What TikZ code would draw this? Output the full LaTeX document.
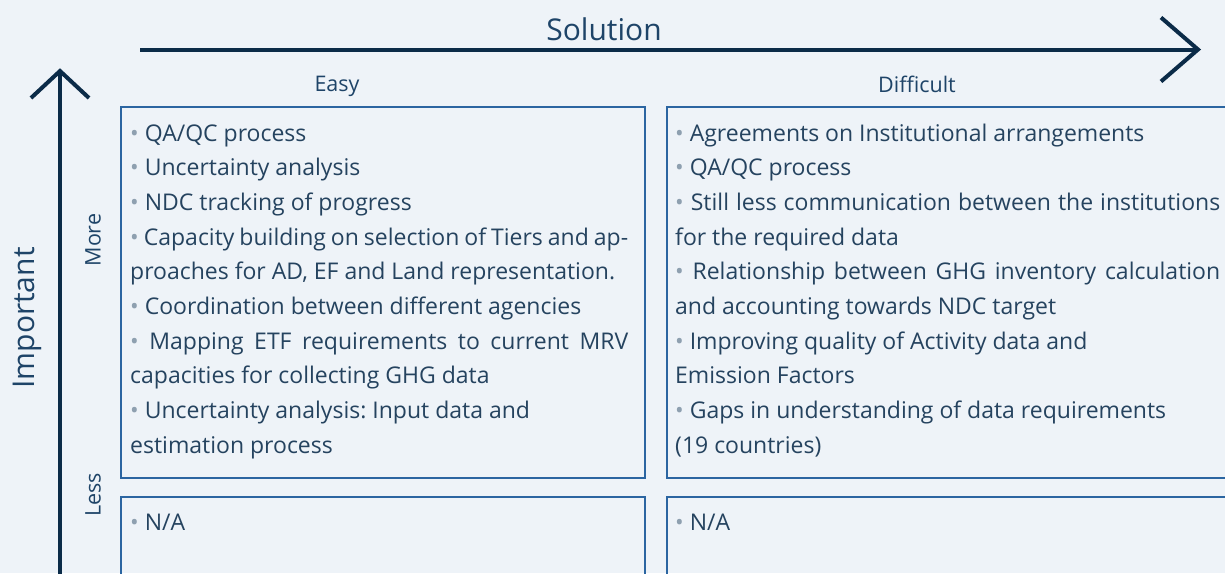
\documentclass[tikz,border=0pt]{standalone}
\usepackage{fontspec}
\setmainfont{Open Sans}
\usetikzlibrary{calc}
\frenchspacing
\definecolor{bg}{HTML}{EEF3F8}
\definecolor{axisc}{HTML}{0B2B48}
\definecolor{boxc}{HTML}{2B65A1}
\definecolor{txt}{HTML}{25435F}
\definecolor{lbl}{HTML}{1E4468}
\definecolor{bul}{HTML}{8EA0B0}
\newcommand\bu{{\color{bul}\textbullet}\ }
\newcommand\jl[1]{\hbox to \hsize{#1}}
\newcommand\rl[1]{\hbox{#1}}
\tikzset{
  axis/.style={draw=axisc, line width=4pt, line join=miter},
  quad/.style={draw=boxc, line width=2pt, rectangle, inner sep=0pt, anchor=north west},
  body/.style={anchor=base west, inner sep=0pt, text=txt, font=\fontsize{23}{34.7}\selectfont\frenchspacing},
  big/.style={text=lbl, font=\fontsize{30}{36}\selectfont, inner sep=0pt},
  small/.style={text=lbl, font=\fontsize{21.5}{26}\selectfont, inner sep=0pt}
}
\begin{document}
\begin{tikzpicture}[x=1pt,y=-1pt]
\fill[bg] (0,0) rectangle (1225,573);
\useasboundingbox (0,0) rectangle (1225,573);
\begin{scope}
\clip (0,0) rectangle (1225,573);
% quadrant boxes
\node[quad, minimum width=524pt, minimum height=371pt] (tlb) at (119.5,105.5) {};
\node[quad, minimum width=580pt, minimum height=371pt] (trb) at (665.5,105.5) {};
\node[quad, minimum width=524pt, minimum height=120pt] (blb) at (119.5,495.5) {};
\node[quad, minimum width=580pt, minimum height=120pt] (brb) at (665.5,495.5) {};
% axes
\coordinate (xs) at (140,49.5);
\coordinate (xe) at (1198,49.5);
\draw[axis] (xs) -- (xe);
\draw[axis] ($(xe)+(-37,-32)$) -- (xe) -- ($(xe)+(-37,32)$);
\coordinate (ys) at (60,600);
\coordinate (ye) at (60,71);
\draw[axis] (ys) -- (ye);
\draw[axis] ($(ye)+(-29,27)$) -- (ye) -- ($(ye)+(29,27)$);
\end{scope}
% labels
\node[big] (sol) at (604,29) {Solution};
\node[big, rotate=90] (imp) at (27,318) {Important};
\node[small] (easy) at (337,86) {Easy};
\node[small] (diff) at (917,84) {Difficult};
\node[small, rotate=90] (more) at (93,240) {More};
\node[small, rotate=90] (less) at (93,495) {Less};
% texts
\node[body] (tlt) at (130,141) {\parbox[t]{498pt}{%
\rl{\bu QA/QC process}
\rl{\bu Uncertainty analysis}
\rl{\bu NDC tracking of progress}
\jl{\bu Capacity building on selection of Tiers and ap-}
\rl{proaches for AD, EF and Land representation.}
\rl{\bu Coordination between different agencies}
\jl{\bu Mapping ETF requirements to current MRV}
\rl{capacities for collecting GHG data}
\rl{\bu Uncertainty analysis: Input data and}
\rl{estimation process}}};
\node[body] (trt) at (675,141) {\parbox[t]{545pt}{%
\rl{\bu Agreements on Institutional arrangements}
\rl{\bu QA/QC process}
\jl{\bu Still less communication between the institutions}
\rl{for the required data}
\jl{\bu Relationship between GHG inventory calculation}
\rl{and accounting towards NDC target}
\rl{\bu Improving quality of Activity data and}
\rl{Emission Factors}
\rl{\bu Gaps in understanding of data requirements}
\rl{(19 countries)}}};
\node[body] (blt) at (130,530) {\bu N/A};
\node[body] (brt) at (675,530) {\bu N/A};
\end{tikzpicture}
\end{document}
